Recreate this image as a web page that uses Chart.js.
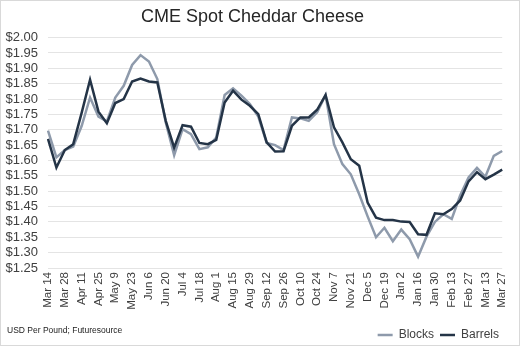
<!DOCTYPE html>
<html>
<head>
<meta charset="utf-8">
<script src="https://cdn.jsdelivr.net/npm/chart.js@4"></script>
<style>
  html, body { margin: 0; padding: 0; background: #fff; }
  #wrap { position: relative; width: 520px; height: 346px; }
  #frame { position: absolute; left: 0; top: 0; width: 520px; height: 346px; box-sizing: border-box; border: 1px solid #d9d9d9; pointer-events: none; }
  #note { position: absolute; left: 7px; top: 325px; font: 8.5px "Liberation Sans", Arial, sans-serif; color: #222; }
</style>
</head>
<body>
<div id="wrap">
  <canvas id="chart" width="520" height="346"></canvas>
  <div id="note">USD Per Pound; Futuresource</div>
  <div id="frame"></div>
</div>
<script>
// weekly dates, Mar 14 through Mar 27 of the next year
const weeks = [
  'Mar 14', 'Mar 21', 'Mar 28', 'Apr 4', 'Apr 11', 'Apr 18', 'Apr 25', 'May 2', 'May 9', 'May 16',
  'May 23', 'May 30', 'Jun 6', 'Jun 13', 'Jun 20', 'Jun 27', 'Jul 4', 'Jul 11', 'Jul 18', 'Jul 25',
  'Aug 1', 'Aug 8', 'Aug 15', 'Aug 22', 'Aug 29', 'Sep 5', 'Sep 12', 'Sep 19', 'Sep 26', 'Oct 3',
  'Oct 10', 'Oct 17', 'Oct 24', 'Oct 31', 'Nov 7', 'Nov 14', 'Nov 21', 'Nov 28', 'Dec 5', 'Dec 12',
  'Dec 19', 'Dec 26', 'Jan 2', 'Jan 9', 'Jan 16', 'Jan 23', 'Jan 30', 'Feb 6', 'Feb 13', 'Feb 20',
  'Feb 27', 'Mar 6', 'Mar 13', 'Mar 20', 'Mar 27'
];

const blocks = [
  1.697, 1.610, 1.634, 1.645, 1.712, 1.805, 1.743, 1.727, 1.805, 1.843,
  1.911, 1.943, 1.922, 1.865, 1.724, 1.617, 1.702, 1.686, 1.637, 1.643,
  1.675, 1.813, 1.835, 1.811, 1.784, 1.743, 1.657, 1.650, 1.634, 1.740,
  1.737, 1.729, 1.757, 1.813, 1.653, 1.588, 1.555, 1.490, 1.418, 1.350,
  1.381, 1.337, 1.375, 1.344, 1.287, 1.352, 1.400, 1.425, 1.410, 1.486,
  1.545, 1.576, 1.547, 1.615, 1.631
];

const barrels = [
  1.670, 1.577, 1.634, 1.653, 1.755, 1.863, 1.759, 1.721, 1.787, 1.800,
  1.857, 1.867, 1.857, 1.854, 1.729, 1.642, 1.715, 1.710, 1.657, 1.653,
  1.667, 1.789, 1.827, 1.798, 1.778, 1.751, 1.659, 1.629, 1.630, 1.713,
  1.740, 1.740, 1.765, 1.813, 1.708, 1.659, 1.604, 1.583, 1.463, 1.414,
  1.406, 1.406, 1.401, 1.400, 1.360, 1.358, 1.428, 1.425, 1.442, 1.470,
  1.532, 1.562, 1.539, 1.554, 1.570
];

const FONT = '"Liberation Sans", Arial, sans-serif';

new Chart(document.getElementById('chart'), {
  type: 'line',
  data: {
    labels: weeks,
    datasets: [
      { label: 'Blocks', data: blocks, borderColor: '#8e9aab', backgroundColor: '#8e9aab',
        borderWidth: 2.5, pointRadius: 0, tension: 0, order: 1 },
      { label: 'Barrels', data: barrels, borderColor: '#243447', backgroundColor: '#243447',
        borderWidth: 2.5, pointRadius: 0, tension: 0, order: 0 }
    ]
  },
  options: {
    responsive: false,
    animation: false,
    layout: { padding: { left: 0, right: 15, top: 0, bottom: -5 } },
    plugins: {
      title: {
        display: true, text: 'CME Spot Cheddar Cheese', color: '#262626',
        font: { family: FONT, size: 18, weight: 'normal' },
        padding: { top: 6, bottom: 10 }
      },
      legend: {
        position: 'bottom', align: 'end',
        labels: {
          usePointStyle: true, pointStyle: 'line', pointStyleWidth: 15,
          color: '#404040', font: { family: FONT, size: 12 }, padding: 6,
          sort: (a, b) => a.datasetIndex - b.datasetIndex
        }
      },
      tooltip: { enabled: false }
    },
    scales: {
      x: {
        offset: false,
        grid: { display: false, drawTicks: false },
        border: { display: false },
        ticks: {
          autoSkip: false, maxRotation: 90, minRotation: 90, padding: 4,
          color: '#404040', font: { family: FONT, size: 11.5 },
          callback: (v, i) => (i % 2 === 0 ? weeks[i] : '')
        },
        afterFit: s => { s.height = 55; }
      },
      y: {
        min: 1.25, max: 2.00,
        grid: { color: '#e4e4e4', drawTicks: false },
        border: { display: false },
        ticks: {
          stepSize: 0.05, padding: 10, autoSkip: false,
          color: '#404040', font: { family: FONT, size: 13 },
          callback: v => '$' + v.toFixed(2)
        },
        afterFit: s => { s.width = 48; }
      }
    }
  }
});
</script>
</body>
</html>
